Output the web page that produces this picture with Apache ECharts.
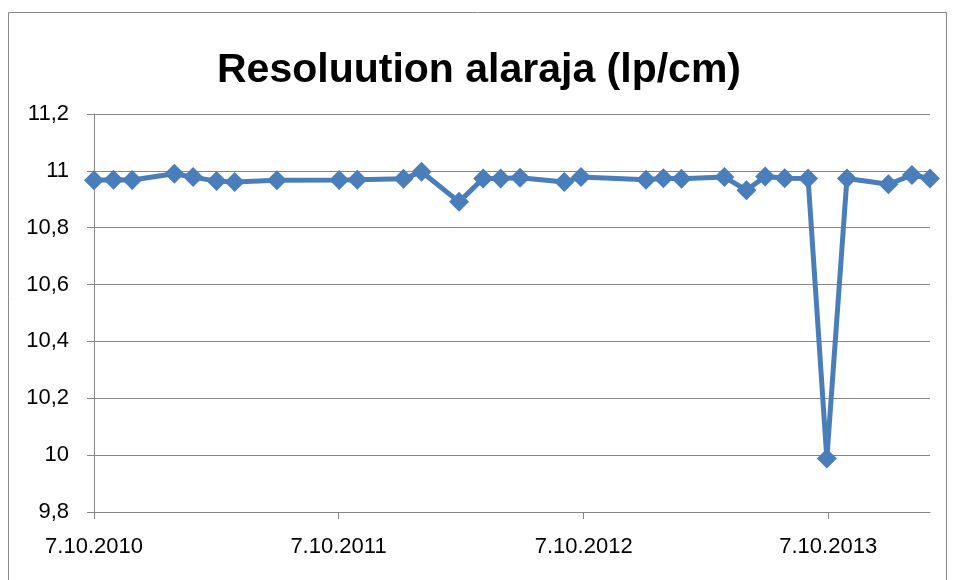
<!DOCTYPE html>
<html>
<head>
<meta charset="utf-8">
<script src="https://cdn.jsdelivr.net/npm/echarts@6/dist/echarts.min.js"></script>
<style>
html,body{margin:0;padding:0;background:#fff;}
#chart{width:958px;height:580px;}
</style>
</head>
<body>
<div id="chart"></div>
<script>
const dates = [
  '2010-10-07','2010-11-05','2010-12-03','2011-02-04','2011-03-04','2011-04-08','2011-05-05','2011-07-07',
  '2011-10-08','2011-11-04','2012-01-12','2012-02-08','2012-04-04','2012-05-10','2012-06-05','2012-07-04',
  '2012-09-08','2012-10-03','2013-01-08','2013-02-03','2013-03-02','2013-05-05','2013-06-07','2013-07-05',
  '2013-08-03','2013-09-07','2013-10-05','2013-11-04','2014-01-05','2014-02-09','2014-03-08'
];
const values = [
  10.967,10.969,10.968,10.990,10.978,10.964,10.961,10.967,
  10.968,10.969,10.972,10.997,10.891,10.973,10.973,10.976,
  10.961,10.978,10.969,10.974,10.972,10.978,10.932,10.980,
  10.974,10.973,9.988,10.973,10.953,10.985,10.973
];
const xTickDates = ['2010-10-07','2011-10-07','2012-10-07','2013-10-07'];
const xTickLabels = ['7.10.2010','7.10.2011','7.10.2012','7.10.2013'];
const yMin = 9.8, yMax = 11.2, yStep = 0.2;

// days since the first date (UTC, no timezone drift)
const dayNum = s => { const p = s.split('-').map(Number); return Date.UTC(p[0], p[1] - 1, p[2]) / 86400000; };
const base = dayNum(dates[0]);
const tickDays = xTickDates.map(d => dayNum(d) - base);
const data = dates.map((d, i) => [dayNum(d) - base, values[i]]);

const chart = echarts.init(document.getElementById('chart'), null, {renderer: 'canvas'});
const font = '"Liberation Sans", Arial, sans-serif';
chart.setOption({
  animation: false,
  backgroundColor: '#fff',
  title: {
    text: 'Resoluution alaraja (lp/cm)',
    left: 'center',
    top: 45,
    textStyle: {fontFamily: font, fontSize: 41, fontWeight: 'bold', color: '#000'}
  },
  graphic: [{
    type: 'rect',
    shape: {x: 8.5, y: 12.5, width: 938, height: 620},
    style: {fill: 'none', stroke: '#898989', lineWidth: 1},
    silent: true
  }],
  grid: {left: 94, right: 28, top: 114, bottom: 68},
  xAxis: {
    type: 'value',
    min: 0,
    max: data[data.length - 1][0],
    axisLine: {show: true, lineStyle: {color: '#868686', width: 1}},
    axisTick: {show: true, customValues: tickDays, length: 7, inside: false, lineStyle: {color: '#868686'}},
    axisLabel: {
      customValues: tickDays,
      margin: 24,
      fontFamily: font, fontSize: 22, color: '#000',
      formatter: function (v) {
        const k = tickDays.indexOf(v);
        return k >= 0 ? xTickLabels[k] : '';
      }
    },
    splitLine: {show: false}
  },
  yAxis: {
    type: 'value',
    min: yMin, max: yMax, interval: yStep,
    axisLine: {show: true, lineStyle: {color: '#868686', width: 1}},
    axisTick: {show: true, length: 7, lineStyle: {color: '#868686'}},
    axisLabel: {
      margin: 25,
      fontFamily: font, fontSize: 22, color: '#000',
      formatter: v => String(parseFloat(v.toFixed(1))).replace('.', ',')
    },
    splitLine: {show: true, lineStyle: {color: '#868686', width: 1}}
  },
  series: [{
    type: 'line',
    data: data,
    symbol: 'diamond',
    symbolSize: 20,
    lineStyle: {color: '#4a7ebb', width: 5},
    itemStyle: {color: '#4a7ebb'},
    z: 5
  }]
});
</script>
</body>
</html>
